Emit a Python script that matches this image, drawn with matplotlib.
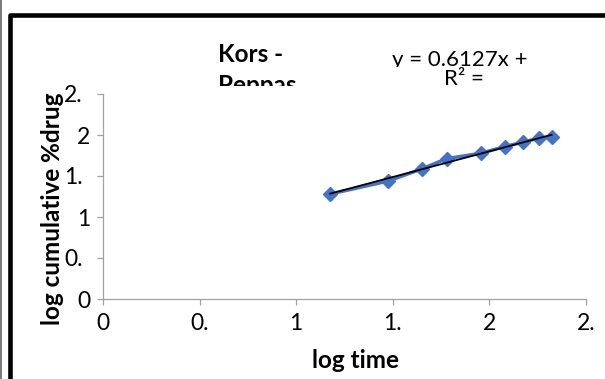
import numpy as np
import matplotlib
matplotlib.use('Agg')
import matplotlib.pyplot as plt
from matplotlib.patches import Rectangle
from matplotlib.lines import Line2D
from matplotlib.transforms import Bbox, TransformedBbox, ScaledTranslation

plt.rcParams['font.family'] = ['Lato', 'DejaVu Sans']

# Korsmeyer-Peppas plot: log time vs log cumulative % drug released
log_time = [1.176, 1.477, 1.653, 1.778, 1.954, 2.079, 2.176, 2.255, 2.322]
log_drug = [1.280, 1.439, 1.589, 1.711, 1.777, 1.857, 1.915, 1.960, 1.972]

x_ticks = [0, 0.5, 1, 1.5, 2, 2.5]
x_tick_labels = ['0', '0.', '1', '1.', '2', '2.']
y_ticks = [0, 0.5, 1, 1.5, 2, 2.5]
y_tick_labels = ['0', '0.', '1', '1.', '2', '2.']

W, H = 605, 379

# pixel (from top-left) -> figure fraction
def fx(px):
    return px / W

def fy(py):
    return 1 - py / H

def clip_text(t, x0, y0, x1, y1):
    # clip a text to a pixel box (top-left origin)
    box = Bbox.from_extents(fx(x0), fy(y1), fx(x1), fy(y0))
    t.set_clip_box(TransformedBbox(box, fig.transFigure))
    t.set_clip_on(True)

fig = plt.figure(figsize=(6.05, 3.79), dpi=100)
ax = fig.add_axes([fx(103), fy(299), fx(586) - fx(103), fy(94) - fy(299)])

ax.plot(log_time, log_drug, color='#4472C4', lw=2.5, marker='D',
        markersize=7.5, markeredgecolor='#4472C4', zorder=2)

# linear trendline
slope, intercept = np.polyfit(log_time, log_drug, 1)
xs = np.array([min(log_time), max(log_time)])
ax.plot(xs, slope * xs + intercept, color='black', lw=1.3, zorder=3)

ax.set_xlim(0, 2.5)
ax.set_ylim(0, 2.5)
ax.set_xticks(x_ticks)
ax.set_xticklabels(x_tick_labels)
ax.set_yticks(y_ticks)
ax.set_yticklabels(y_tick_labels)
for s in ['top', 'right']:
    ax.spines[s].set_visible(False)
for s in ['left', 'bottom']:
    ax.spines[s].set_color('#A0A0A0')
    ax.spines[s].set_linewidth(0.9)
ax.tick_params(direction='out', length=4, width=0.9, color='#A0A0A0',
               labelsize=16.5, labelcolor='black')
ax.tick_params(axis='x', pad=6)
ax.tick_params(axis='y', pad=5)

fig.canvas.draw()
for lab in ax.get_yticklabels():
    if lab.get_text().endswith('.'):
        lab.set_transform(lab.get_transform() +
                          ScaledTranslation(-8 / 100, 0, fig.dpi_scale_trans))

# axis titles
fig.text(fx(53), fy(209), 'log cumulative %drug', rotation=90, fontsize=17.5,
         fontweight='bold', ha='center', va='center')
t = fig.text(fx(356), fy(368), 'log time', fontsize=17.5, fontweight='bold',
             ha='center', va='baseline')
clip_text(t, 0, 0, W, 373)

# chart title (cut off by its box)
fig.text(fx(218), fy(62), 'Kors -', fontsize=17.5, fontweight='bold',
         ha='left', va='baseline')
t = fig.text(fx(218), fy(93), 'Peppas', fontsize=17.5, fontweight='bold',
             ha='left', va='baseline')
clip_text(t, 0, 0, W, 86)

# trendline label (cut off)
t = fig.text(fx(460), fy(66), 'y = 0.6127x +', fontsize=16,
             ha='center', va='baseline')
clip_text(t, 0, 0, W, 67)
fig.text(fx(464), fy(85), 'R\u00b2 =', fontsize=16, ha='center', va='baseline')

# chart border
fig.add_artist(Rectangle((fx(9.5), -0.2), 1.5, fy(15) + 0.2,
                         transform=fig.transFigure, fill=False,
                         edgecolor='black', lw=3.3, joinstyle='round'))
fig.add_artist(Line2D([fx(1), fx(1)], [0, 1], transform=fig.transFigure,
                      color='#555555', lw=1.1))

fig.savefig('out.png', dpi=100)
